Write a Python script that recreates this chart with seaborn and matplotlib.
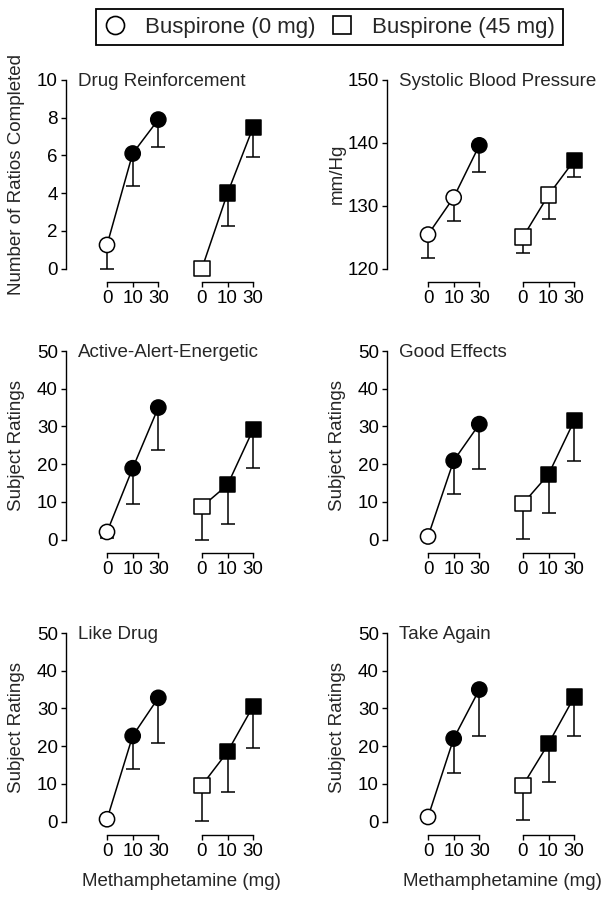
import numpy as np
import pandas as pd
import matplotlib
matplotlib.use("Agg")
import matplotlib.pyplot as plt
from matplotlib.lines import Line2D
import seaborn as sns

# methamphetamine doses (x tick labels)
doses = ["0", "10", "30"]

# means and SEM (lower bar only)
# first list of each pair = buspirone 0 mg, second = buspirone 45 mg
reinf_bus0 = [1.25, 6.1, 7.9]
reinf_bus0_err = [1.25, 1.7, 1.45]
reinf_bus45 = [0.0, 4.0, 7.5]
reinf_bus45_err = [0.0, 1.75, 1.6]
reinf_fill = [False, True, True]

sbp_bus0 = [125.4, 131.3, 139.6]
sbp_bus0_err = [3.8, 3.8, 4.2]
sbp_bus45 = [125.0, 131.7, 137.2]
sbp_bus45_err = [2.6, 3.8, 2.6]
sbp_fill = [False, False, True]

aae_bus0 = [2.0, 18.9, 35.0]
aae_bus0_err = [1.5, 9.5, 11.3]
aae_bus45 = [8.7, 14.5, 29.2]
aae_bus45_err = [8.7, 10.4, 10.3]
aae_fill = [False, True, True]

good_bus0 = [0.8, 20.9, 30.6]
good_bus0_err = [0.0, 8.9, 12.0]
good_bus45 = [9.5, 17.3, 31.5]
good_bus45_err = [9.3, 10.2, 10.8]
good_fill = [False, True, True]

like_bus0 = [0.6, 22.7, 32.8]
like_bus0_err = [0.0, 8.9, 11.9]
like_bus45 = [9.6, 18.5, 30.6]
like_bus45_err = [9.4, 10.7, 11.2]
like_fill = [False, True, True]

again_bus0 = [1.2, 22.0, 35.0]
again_bus0_err = [0.0, 9.1, 12.2]
again_bus45 = [9.6, 20.7, 33.0]
again_bus45_err = [9.3, 10.3, 10.4]
again_fill = [False, True, True]

titles = ["Drug Reinforcement", "Systolic Blood Pressure", "Active-Alert-Energetic",
          "Good Effects", "Like Drug", "Take Again"]
ylabels = ["Number of Ratios Completed", "mm/Hg", "Subject Ratings",
           "Subject Ratings", "Subject Ratings", "Subject Ratings"]
ylims = [(0, 10), (120, 150), (0, 50), (0, 50), (0, 50), (0, 50)]
yticks = [np.arange(0, 11, 2), np.arange(120, 151, 10)] + [np.arange(0, 51, 10)] * 4

panels = [
    (reinf_bus0, reinf_bus0_err, reinf_bus45, reinf_bus45_err, reinf_fill),
    (sbp_bus0, sbp_bus0_err, sbp_bus45, sbp_bus45_err, sbp_fill),
    (aae_bus0, aae_bus0_err, aae_bus45, aae_bus45_err, aae_fill),
    (good_bus0, good_bus0_err, good_bus45, good_bus45_err, good_fill),
    (like_bus0, like_bus0_err, like_bus45, like_bus45_err, like_fill),
    (again_bus0, again_bus0_err, again_bus45, again_bus45_err, again_fill),
]

gap = 3.7  # x shift of the buspirone 45 mg group

# long-form table
rows = []
for title, (m0, e0, m45, e45, fill) in zip(titles, panels):
    for g, (m, e) in enumerate([(m0, e0), (m45, e45)]):
        for k in range(3):
            rows.append(dict(panel=title, group=g, x=k + g * gap,
                             mean=m[k], err=e[k], filled=fill[k]))
df = pd.DataFrame(rows)

sns.set_style("ticks")
plt.rcParams["font.family"] = ["Liberation Sans", "DejaVu Sans"]
plt.rcParams["axes.edgecolor"] = "black"
plt.rcParams["axes.linewidth"] = 1.0
plt.rcParams["xtick.color"] = "black"
plt.rcParams["ytick.color"] = "black"

W, H = 614, 901
fig = plt.figure(figsize=(W / 100, H / 100), dpi=100)

col_left = [66, 387]
row_top = [80, 351, 633]
ax_w, ax_h = 200, 188.5
fs = 13.5

for i, title in enumerate(titles):
    r, c = divmod(i, 2)
    ax = fig.add_axes([col_left[c] / W, 1 - (row_top[r] + ax_h) / H, ax_w / W, ax_h / H])
    for g, marker in enumerate(["o", "s"]):
        sub = df[(df.panel == title) & (df.group == g)]
        sns.lineplot(data=sub, x="x", y="mean", estimator=None, color="black",
                     lw=1.1, ax=ax, zorder=1)
        eb = ax.errorbar(sub["x"], sub["mean"], yerr=[sub["err"], np.zeros(len(sub))],
                         fmt="none", ecolor="black", elinewidth=1.1, capsize=5,
                         capthick=1.1, zorder=2)
        for art in list(eb.lines[1]) + list(eb.lines[2]):
            art.set_clip_on(False)
        sns.scatterplot(data=sub, x="x", y="mean", hue="filled",
                        palette={True: "black", False: "white"}, marker=marker,
                        s=120, edgecolor="black", linewidth=1.1, legend=False,
                        ax=ax, zorder=3, clip_on=False)

    ax.set_ylim(ylims[i])
    ax.set_yticks(yticks[i])
    ax.set_xlim(-1.6, 6.2)
    ax.set_xticks(range(3), doses)
    ax.set_ylabel(ylabels[i], fontsize=fs)
    ax.yaxis.set_label_coords(-0.205, 0.5)
    ax.set_xlabel("")
    sns.despine(ax=ax)
    ax.spines["bottom"].set_position(("outward", 10))
    ax.spines["bottom"].set_bounds(0, 2)
    ax.tick_params(labelsize=fs, length=3.6, width=1.0, pad=2.2)
    ax.text(0.06, 0.99, title, transform=ax.transAxes, ha="left", va="center", fontsize=fs)

    # second group gets its own short x axis
    ax2 = ax.twiny()
    ax2.set_xlim(ax.get_xlim())
    ax2.xaxis.tick_bottom()
    for s in ["top", "left", "right"]:
        ax2.spines[s].set_visible(False)
    ax2.spines["bottom"].set_position(("outward", 10))
    ax2.spines["bottom"].set_bounds(gap, gap + 2)
    ax2.set_xticks(gap + np.arange(3), doses)
    ax2.tick_params(labelsize=fs, length=3.6, width=1.0, pad=2.2)

    if r == 2:
        ax.set_xlabel("Methamphetamine (mg)", fontsize=fs)
        ax.xaxis.set_label_coords(0.575, -0.275)

handles = [
    Line2D([], [], ls="none", marker="o", ms=13, mfc="white", mec="black", mew=1.2),
    Line2D([], [], ls="none", marker="s", ms=13, mfc="white", mec="black", mew=1.2),
]
leg = fig.legend(handles, ["Buspirone (0 mg)", "Buspirone (45 mg)"], loc="center",
                 bbox_to_anchor=(329.5 / W, 1 - 27 / H), ncol=2, fontsize=16,
                 frameon=True, fancybox=False, edgecolor="black", framealpha=1,
                 handlelength=1.0, handletextpad=0.85, columnspacing=0.7, borderpad=0.35)
leg.get_frame().set_linewidth(1.3)

fig.savefig("out.png", dpi=100)
